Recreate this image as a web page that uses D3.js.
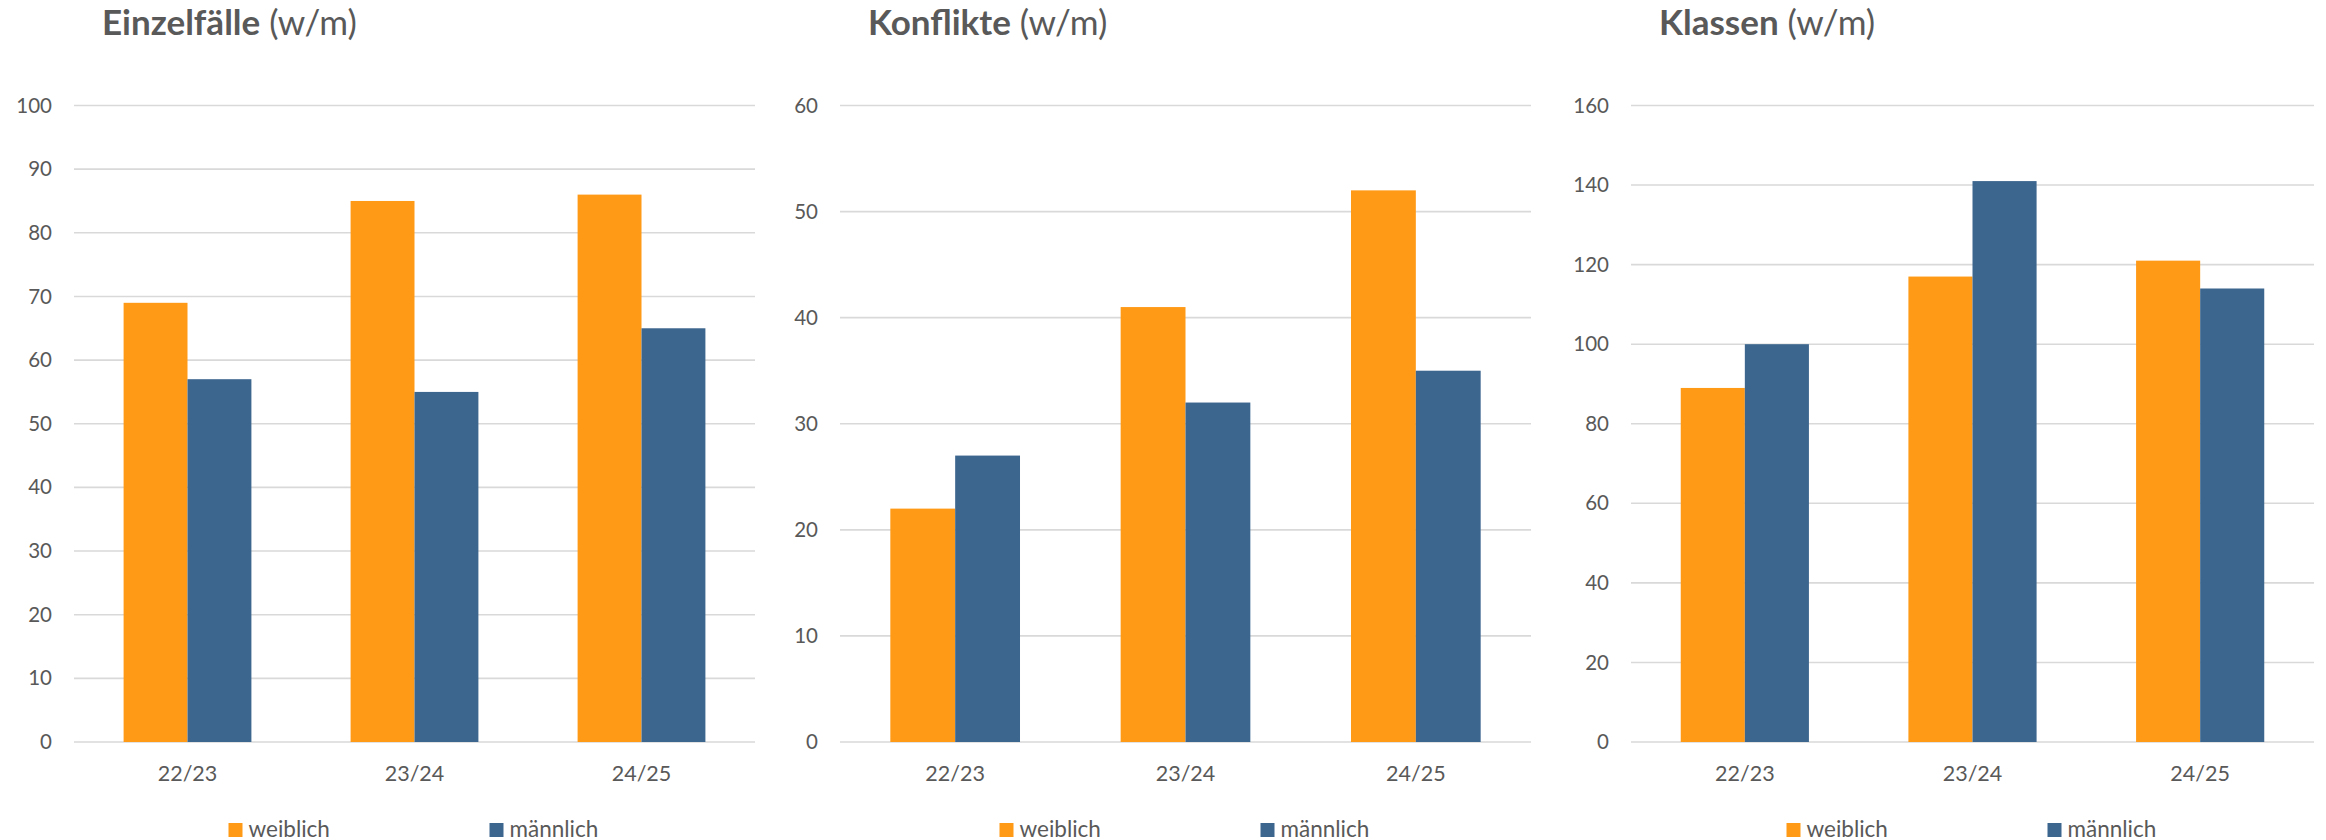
<!DOCTYPE html>
<html>
<head>
<meta charset="utf-8">
<script src="https://cdn.jsdelivr.net/npm/d3@7/dist/d3.min.js"></script>
<style>
  html, body { margin: 0; padding: 0; background: #ffffff; }
  svg { display: block; }
  text { font-family: Lato, "Open Sans", sans-serif; fill: #595959; }
</style>
</head>
<body>
<svg id="chart" width="2326" height="840"></svg>
<script>
// ---- data ----
const categories = ["22/23", "23/24", "24/25"];
const seriesNames = ["weiblich", "männlich"];

const titlesBold = ["Einzelfälle", "Konflikte", "Klassen"];
const titleSuffix = " (w/m)";

const einzelfaelleW = [69, 85, 86];
const einzelfaelleM = [57, 55, 65];
const konflikteW = [22, 41, 52];
const konflikteM = [27, 32, 35];
const klassenW = [89, 117, 121];
const klassenM = [100, 141, 114];

const yMax = [100, 60, 160];
const yStep = [10, 10, 20];

// ---- layout ----
const colors = ["#FF9A17", "#3D668F"];
const panels = [
  { x0: 74,   x1: 755,  w: einzelfaelleW, m: einzelfaelleM },
  { x0: 840,  x1: 1531, w: konflikteW,    m: konflikteM },
  { x0: 1631, x1: 2314, w: klassenW,      m: klassenM }
];
const yTop = 105.5, yBottom = 742;

const svg = d3.select("#chart");

panels.forEach((p, i) => {
  const g = svg.append("g");

  const x0 = d3.scaleBand().domain(categories).range([p.x0, p.x1])
    .paddingInner(0.437).paddingOuter(0.2185);
  const x1 = d3.scaleBand().domain(seriesNames).range([0, x0.bandwidth()]).padding(0);
  const y = d3.scaleLinear().domain([0, yMax[i]]).range([yBottom, yTop]);

  const ticks = d3.range(0, yMax[i] + yStep[i] / 2, yStep[i]);

  // gridlines
  g.append("g").selectAll("line").data(ticks).join("line")
    .attr("x1", p.x0).attr("x2", p.x1)
    .attr("y1", d => y(d)).attr("y2", d => y(d))
    .attr("stroke", "#D9D9D9").attr("stroke-width", 1.6);

  // y labels
  const yAxis = d3.axisLeft(y).tickValues(ticks).tickSize(0).tickPadding(22);
  const ya = g.append("g").attr("transform", `translate(${p.x0},0)`).call(yAxis);
  ya.select(".domain").remove();
  ya.selectAll("text").style("font-size", "20.5px").attr("fill", "#595959")
    .style("font-family", "Lato, 'Open Sans', sans-serif");

  // bars
  const rows = categories.map((c, k) => ({ cat: c, vals: [p.w[k], p.m[k]] }));
  const grp = g.append("g").selectAll("g").data(rows).join("g")
    .attr("transform", d => `translate(${x0(d.cat)},0)`);
  grp.selectAll("rect").data(d => d.vals.map((v, s) => ({ v, s })))
    .join("rect")
    .attr("x", d => x1(seriesNames[d.s]))
    .attr("width", x1.bandwidth())
    .attr("y", d => y(d.v))
    .attr("height", d => y(0) - y(d.v))
    .attr("fill", d => colors[d.s]);

  // x labels
  const xAxis = d3.axisBottom(x0).tickSize(0).tickPadding(0);
  const xa = g.append("g").attr("transform", `translate(0,${yBottom})`).call(xAxis);
  xa.select(".domain").remove();
  xa.selectAll("text").attr("dy", null).attr("y", 39)
    .style("font-size", "21.5px").attr("fill", "#595959")
    .style("font-family", "Lato, 'Open Sans', sans-serif");

  // title
  const t = g.append("text").attr("x", p.x0 + 28).attr("y", 35)
    .style("font-size", "35px");
  t.append("tspan").attr("font-weight", "bold").text(titlesBold[i]);
  t.append("tspan").attr("font-weight", "normal").text(titleSuffix);

  // legend
  const cx = (p.x0 + p.x1) / 2;
  const legendOffsets = [-186, 75];
  seriesNames.forEach((name, s) => {
    const lx = cx + legendOffsets[s];
    g.append("rect").attr("x", lx).attr("y", 823).attr("width", 14).attr("height", 14)
      .attr("fill", colors[s]);
    g.append("text").attr("x", lx + 20).attr("y", 836.5)
      .style("font-size", "22.5px").text(name);
  });
});
</script>
</body>
</html>
